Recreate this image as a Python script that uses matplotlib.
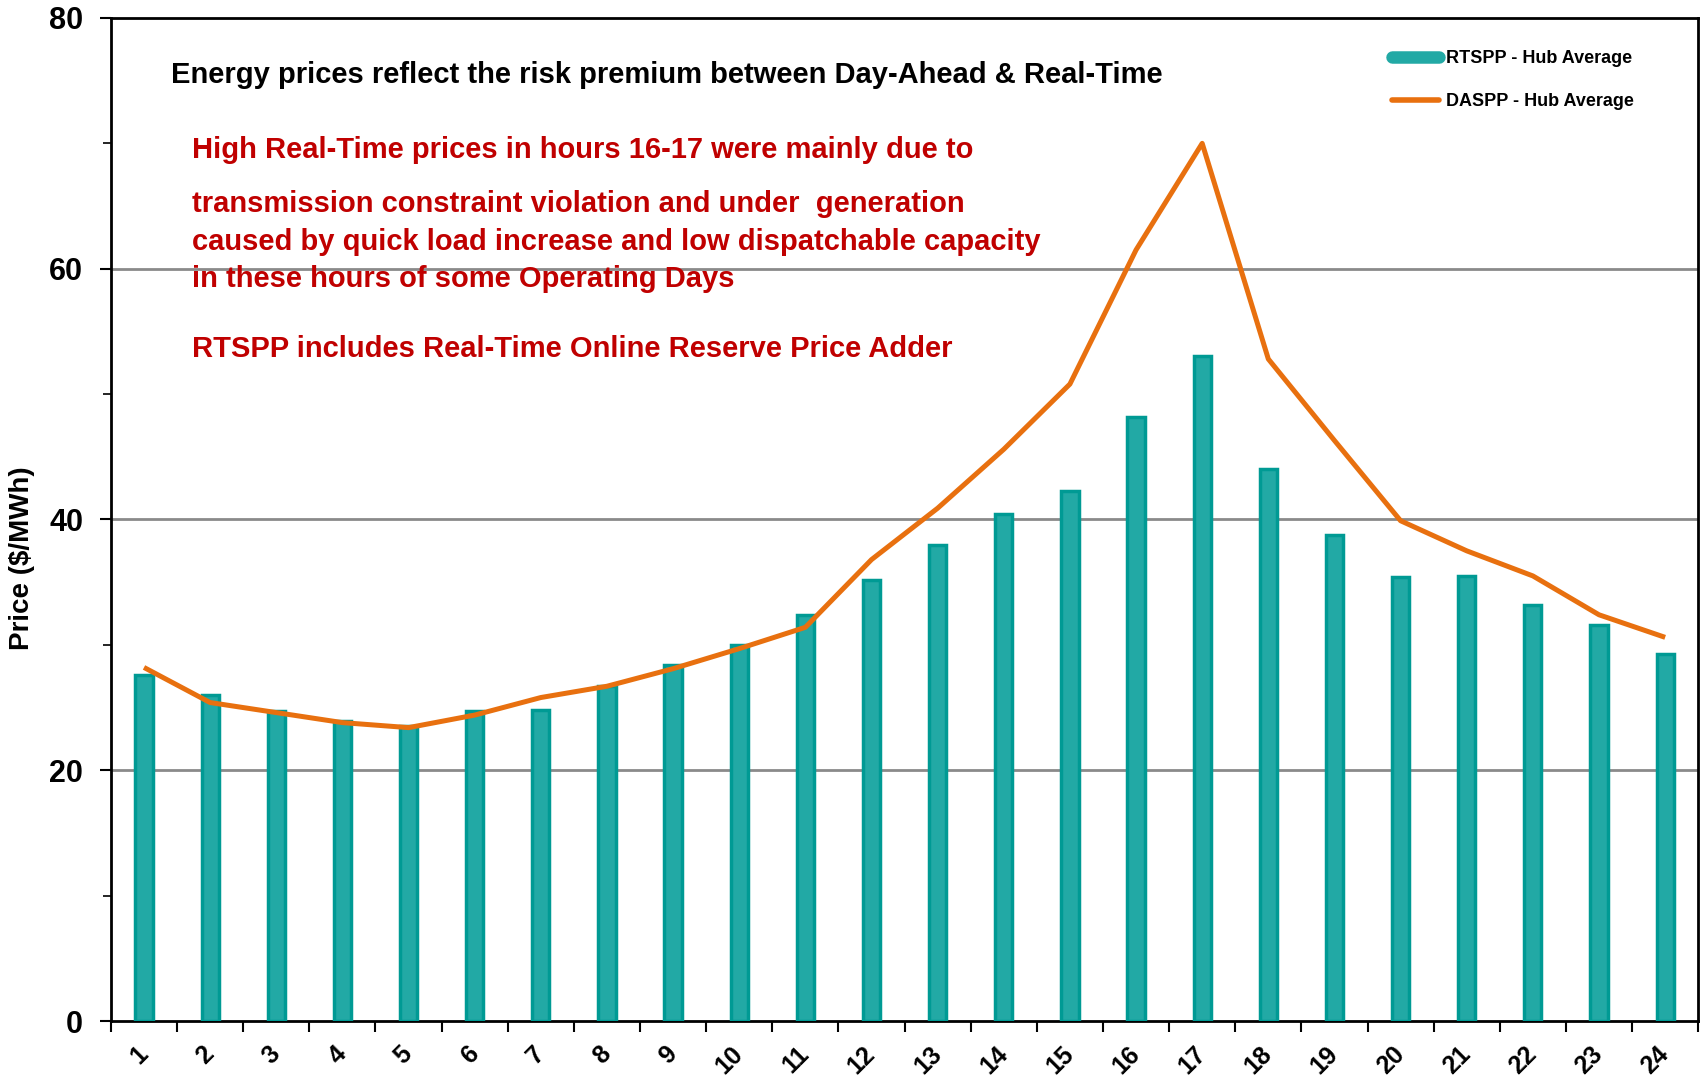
#!/usr/bin/env python3
import numpy as np
import matplotlib
matplotlib.use("Agg")
import matplotlib.pyplot as plt
from matplotlib.ticker import MultipleLocator, FixedLocator
from matplotlib.lines import Line2D

plt.rcParams["font.family"] = ["Liberation Sans", "DejaVu Sans"]
plt.rcParams["font.weight"] = "bold"

# ============================================================
# Data (hourly averages)
# ============================================================
hours = list(range(1, 25))
rtspp = [27.6, 26.0, 24.7, 23.9, 23.5, 24.7, 24.8, 26.7, 28.4, 30.0, 32.4, 35.2,
         38.0, 40.4, 42.3, 48.2, 53.0, 44.0, 38.8, 35.4, 35.5, 33.2, 31.6, 29.3]
daspp = [28.2, 25.4, 24.6, 23.8, 23.4, 24.4, 25.8, 26.7, 28.1, 29.7, 31.4, 36.8,
         40.9, 45.6, 50.8, 61.5, 70.0, 52.8, 46.3, 39.9, 37.5, 35.5, 32.4, 30.6]

title_text = "Energy prices reflect the risk premium between Day-Ahead & Real-Time"
note_lines = [
    "High Real-Time prices in hours 16-17 were mainly due to",
    "transmission constraint violation and under  generation",
    "caused by quick load increase and low dispatchable capacity",
    "in these hours of some Operating Days",
    "RTSPP includes Real-Time Online Reserve Price Adder",
]

teal_edge = "#009A94"
teal_fill = "#22A9A5"
orange = "#E8700F"
red_txt = "#C00000"

fig = plt.figure(figsize=(17.04, 10.76), dpi=100)
ax = fig.add_axes([0.0651, 0.0511, 0.9315, 0.9322])

ax.bar(hours, rtspp, width=0.26, color=teal_fill, edgecolor=teal_edge,
       linewidth=2.5, zorder=3, label="RTSPP - Hub Average")
ax.plot(hours, daspp, color=orange, linewidth=3.6, zorder=4,
        label="DASPP - Hub Average", solid_capstyle="butt")

ax.set_xlim(0.5, 24.5)
ax.set_ylim(0, 80)

# y axis
ax.yaxis.set_major_locator(MultipleLocator(20))
ax.yaxis.set_minor_locator(MultipleLocator(10))
ax.tick_params(axis="y", which="major", direction="out", length=8, width=1.5,
               labelsize=22, pad=12)
ax.tick_params(axis="y", which="minor", direction="out", length=6, width=1.2)
for v in [20, 40, 60]:
    ax.axhline(v, color="#8a8a8a", linewidth=2, zorder=1)
ax.set_ylabel("Price ($/MWh)", fontsize=20, fontweight="bold")
ax.yaxis.set_label_coords(-0.048, 0.461)

# x axis: labels at centres, ticks at boundaries
ax.xaxis.set_major_locator(FixedLocator(hours))
ax.set_xticklabels([str(h) for h in hours], rotation=45, fontsize=18,
                   fontweight="bold", ha="right", va="center",
                   rotation_mode="anchor")
ax.xaxis.set_minor_locator(FixedLocator(np.arange(0.5, 25.0, 1.0)))
ax.tick_params(axis="x", which="major", length=0, pad=21)
ax.tick_params(axis="x", which="minor", direction="out", length=8, width=1.5)

for s in ax.spines.values():
    s.set_linewidth(2)
    s.set_color("black")

# annotations
ax.text(0.038, 0.943, title_text, transform=ax.transAxes, fontsize=21,
        fontweight="bold", color="black", va="center", ha="left")
note_y = [0.868, 0.815, 0.777, 0.740, 0.670]
for txt, yy in zip(note_lines, note_y):
    ax.text(0.051, yy, txt, transform=ax.transAxes, fontsize=21,
            fontweight="bold", color=red_txt, va="center", ha="left")

# legend
handles = [
    Line2D([0], [0], color=teal_fill, linewidth=9, solid_capstyle="round"),
    Line2D([0], [0], color=orange, linewidth=4, solid_capstyle="round"),
]
ax.legend(handles, ["RTSPP - Hub Average", "DASPP - Hub Average"],
          loc="upper right", bbox_to_anchor=(0.97, 0.984), frameon=False,
          handlelength=2.6, handletextpad=0.4, labelspacing=1.45,
          prop={"weight": "bold", "size": 13})

fig.savefig("out.png", dpi=100)
